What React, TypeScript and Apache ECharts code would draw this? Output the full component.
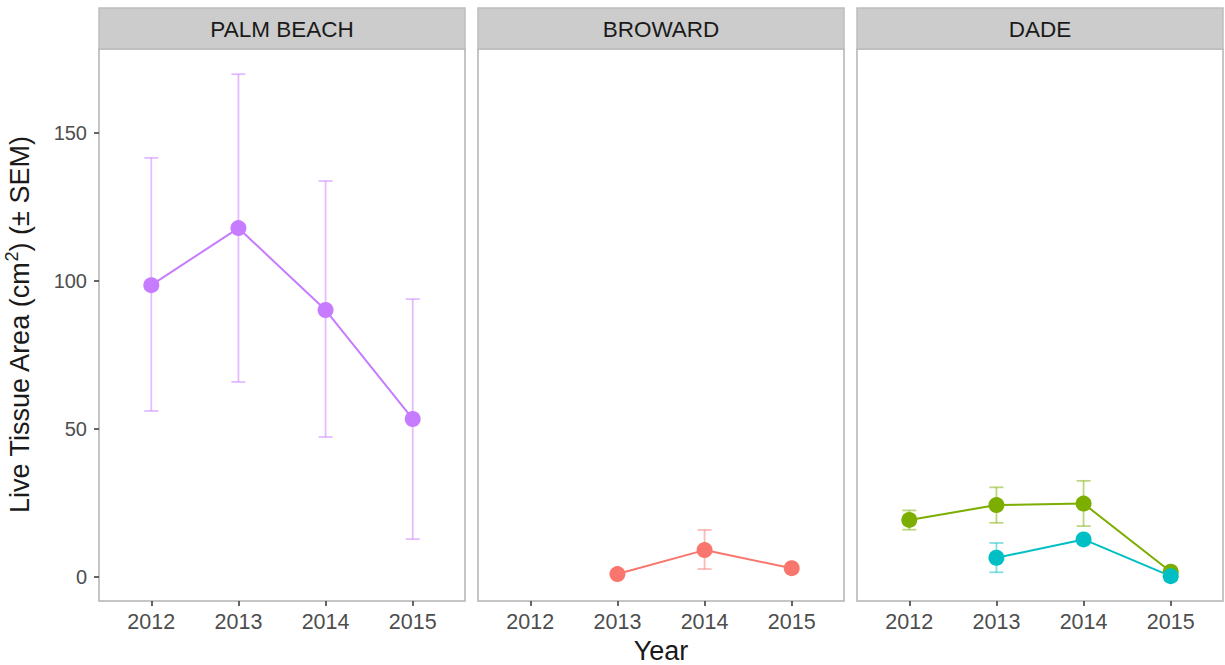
import React, { useEffect, useRef } from "react";
import * as echarts from "echarts";

const years = [2012, 2013, 2014, 2015];
const yTicks = [0, 50, 100, 150];
const panels = ["PALM BEACH", "BROWARD", "DADE"];

const palmMean = [98.6, 117.9, 90.2, 53.4];
const palmUpper = [141.6, 169.9, 133.8, 93.9];
const palmLower = [56.1, 65.9, 47.3, 12.8];

const browardMean = [null, 1.0, 9.1, 3.0];
const browardUpper = [null, null, 15.9, null];
const browardLower = [null, null, 2.7, null];

const dadeGreenMean = [19.3, 24.3, 24.8, 1.8];
const dadeGreenUpper = [22.5, 30.3, 32.5, null];
const dadeGreenLower = [16.0, 18.3, 17.2, null];

const dadeTealMean = [null, 6.5, 12.7, 0.3];
const dadeTealUpper = [null, 11.5, null, null];
const dadeTealLower = [null, 1.6, null, null];

const groups = [
  { panel: 0, color: "#C77CFF", errColor: "rgba(199,124,255,0.5)", mean: palmMean, upper: palmUpper, lower: palmLower },
  { panel: 1, color: "#F8766D", errColor: "rgba(248,118,109,0.5)", mean: browardMean, upper: browardUpper, lower: browardLower },
  { panel: 2, color: "#7CAE00", errColor: "rgba(124,174,0,0.5)", mean: dadeGreenMean, upper: dadeGreenUpper, lower: dadeGreenLower },
  { panel: 2, color: "#00BFC4", errColor: "rgba(0,191,196,0.5)", mean: dadeTealMean, upper: dadeTealUpper, lower: dadeTealLower },
];

const FONT = "Liberation Sans, Arial, sans-serif";
const panelLeft = [99, 478, 857];
const panelWidth = 366;
const gridTop = 49;
const gridHeight = 552;
const stripTop = 8;

export default function App() {
  const ref = useRef<HTMLDivElement>(null);
  useEffect(() => {
    if (!ref.current) return;
    const chart = echarts.init(ref.current, null, { renderer: "svg" });

    const grids = panels.map((_, i) => ({
      left: panelLeft[i],
      top: gridTop,
      width: panelWidth,
      height: gridHeight,
      containLabel: false,
      outerBoundsMode: "none",
      show: true,
      borderColor: "#b3b3b3",
      borderWidth: 1.5,
      backgroundColor: "#ffffff",
    }));

    const xAxes = panels.map((_, i) => ({
      type: "value",
      gridIndex: i,
      min: 2011.4,
      max: 2015.6,
      splitLine: { show: false },
      axisLine: { show: false, onZero: false },
      axisTick: { show: true, length: 5, customValues: years, lineStyle: { color: "#333333", width: 1.5 } },
      axisLabel: { customValues: years, color: "#4d4d4d", fontSize: 21.5, fontFamily: FONT, margin: 10, formatter: (v: number) => String(v) },
      name: i === 1 ? "Year" : "",
      nameLocation: "middle",
      nameGap: 34,
      nameTextStyle: { fontSize: 27, color: "#1a1a1a", fontFamily: FONT },
    }));

    const yAxes = panels.map((_, i) => ({
      type: "value",
      gridIndex: i,
      min: -8.1,
      max: 178.4,
      splitLine: { show: false },
      axisLine: { show: false, onZero: false },
      axisTick: { show: i === 0, length: 5, customValues: yTicks, lineStyle: { color: "#333333", width: 1.5 } },
      axisLabel: { show: i === 0, customValues: yTicks, color: "#4d4d4d", fontSize: 20, fontFamily: FONT, margin: 12 },
      name: i === 0 ? "Live Tissue Area (cm{sup|2}) (± SEM)" : "",
      nameLocation: "middle",
      nameRotate: 90,
      nameGap: 62,
      nameTextStyle: {
        fontSize: 27,
        color: "#1a1a1a",
        fontFamily: FONT,
        rich: {
          sup: { fontSize: 18, fontFamily: FONT, color: "#1a1a1a", padding: [0, 0, 16, 0] },
        },
      },
    }));

    const series: any[] = [];
    groups.forEach((g) => {
      const errData = years
        .map((y, k) => [y, g.lower[k], g.upper[k]])
        .filter((d) => d[1] !== null && d[2] !== null);
      series.push({
        type: "custom",
        xAxisIndex: g.panel,
        yAxisIndex: g.panel,
        data: errData,
        z: 1,
        renderItem: (params: any, api: any) => {
          const x = api.value(0);
          const lo = api.coord([x, api.value(1)]);
          const hi = api.coord([x, api.value(2)]);
          const hw = 7;
          const style = { stroke: g.errColor, lineWidth: 1.8, fill: "none" };
          return {
            type: "group",
            children: [
              { type: "line", shape: { x1: lo[0], y1: lo[1], x2: hi[0], y2: hi[1] }, style },
              { type: "line", shape: { x1: hi[0] - hw, y1: hi[1], x2: hi[0] + hw, y2: hi[1] }, style },
              { type: "line", shape: { x1: lo[0] - hw, y1: lo[1], x2: lo[0] + hw, y2: lo[1] }, style },
            ],
          };
        },
      });
    });
    groups.forEach((g) => {
      const lineData = years
        .map((y, k) => [y, g.mean[k]])
        .filter((d) => d[1] !== null);
      series.push({
        type: "line",
        xAxisIndex: g.panel,
        yAxisIndex: g.panel,
        data: lineData,
        z: 3,
        symbol: "circle",
        symbolSize: 16,
        lineStyle: { color: g.color, width: 2 },
        itemStyle: { color: g.color },
        emphasis: { disabled: true },
      });
    });

    const graphics: any[] = [];
    panels.forEach((p, i) => {
      graphics.push({
        type: "rect",
        shape: { x: panelLeft[i], y: stripTop, width: panelWidth, height: gridTop - stripTop },
        style: { fill: "#cccccc", stroke: "#bdbdbd", lineWidth: 1.5 },
      });
      graphics.push({
        type: "text",
        x: panelLeft[i] + panelWidth / 2,
        y: (stripTop + gridTop) / 2 + 1,
        style: {
          text: p,
          fill: "#1a1a1a",
          font: `22.5px ${FONT}`,
          align: "center",
          verticalAlign: "middle",
        },
      });
    });

    chart.setOption({
      animation: false,
      backgroundColor: "#ffffff",
      grid: grids,
      xAxis: xAxes,
      yAxis: yAxes,
      series,
      graphic: graphics,
    });
    return () => chart.dispose();
  }, []);
  return (
    <div
      ref={ref}
      style={{ position: "fixed", left: 0, top: 0, width: 1225, height: 665, background: "#fff" }}
    />
  );
}
